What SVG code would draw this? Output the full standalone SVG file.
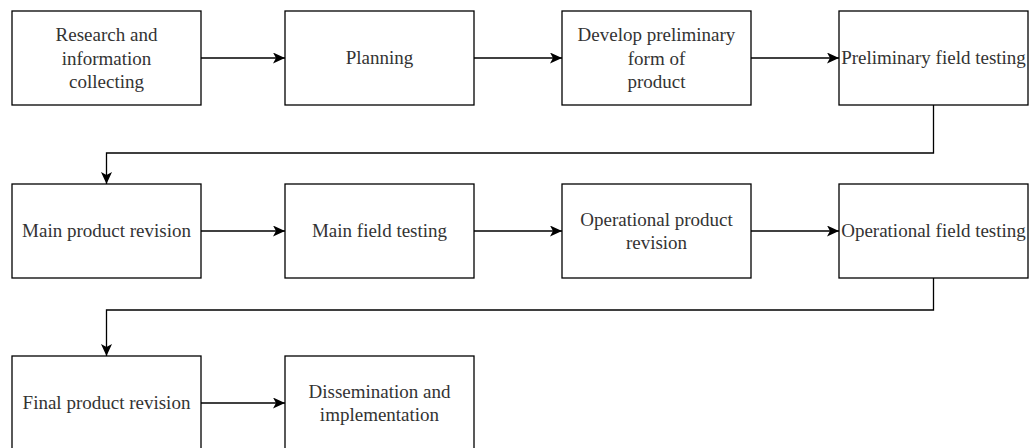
<svg xmlns="http://www.w3.org/2000/svg" width="1033" height="448" viewBox="0 0 1033 448">
<style>
.box{fill:#fff;stroke:#000;stroke-width:1.3}
.lbl{font-family:"Liberation Serif","Times New Roman",serif;font-size:19px;fill:#333;text-anchor:middle}
.edge{fill:none;stroke:#000;stroke-width:1.3}
</style>
<defs>
<marker id="arr" markerUnits="userSpaceOnUse" markerWidth="14" markerHeight="12" refX="12" refY="5.5" orient="auto">
<path d="M0,0 L12,5.5 L0,11 L3,5.5 z" fill="#000"/>
</marker>
</defs>
<rect width="1033" height="448" fill="#fff"/>
<g id="connectors">
<path class="edge" marker-end="url(#arr)" d="M201,58 H285"/>
<path class="edge" marker-end="url(#arr)" d="M474,58 H562"/>
<path class="edge" marker-end="url(#arr)" d="M751,58 H839"/>
<path class="edge" marker-end="url(#arr)" d="M933.5,105 V153 H106.5 V184"/>
<path class="edge" marker-end="url(#arr)" d="M201,231 H285"/>
<path class="edge" marker-end="url(#arr)" d="M474,231 H562"/>
<path class="edge" marker-end="url(#arr)" d="M751,231 H839"/>
<path class="edge" marker-end="url(#arr)" d="M933.5,278 V310 H106.5 V356"/>
<path class="edge" marker-end="url(#arr)" d="M201,403 H285"/>
</g>
<g id="n1"><rect class="box" x="12" y="11" width="189" height="94"/>
<text class="lbl" x="106.5" y="41">Research and</text><text class="lbl" x="106.5" y="64.5">information</text><text class="lbl" x="106.5" y="88">collecting</text></g>
<g id="n2"><rect class="box" x="285" y="11" width="189" height="94"/>
<text class="lbl" x="379.5" y="64">Planning</text></g>
<g id="n3"><rect class="box" x="562" y="11" width="189" height="94"/>
<text class="lbl" x="656.5" y="41">Develop preliminary</text><text class="lbl" x="656.5" y="64.5">form of</text><text class="lbl" x="656.5" y="88">product</text></g>
<g id="n4"><rect class="box" x="839" y="11" width="189" height="94"/>
<text class="lbl" x="933.5" y="64">Preliminary field testing</text></g>
<g id="n5"><rect class="box" x="12" y="184" width="189" height="94"/>
<text class="lbl" x="106.5" y="237">Main product revision</text></g>
<g id="n6"><rect class="box" x="285" y="184" width="189" height="94"/>
<text class="lbl" x="379.5" y="237">Main field testing</text></g>
<g id="n7"><rect class="box" x="562" y="184" width="189" height="94"/>
<text class="lbl" x="656.5" y="225.5">Operational product</text><text class="lbl" x="656.5" y="249">revision</text></g>
<g id="n8"><rect class="box" x="839" y="184" width="189" height="94"/>
<text class="lbl" x="933.5" y="237">Operational field testing</text></g>
<g id="n9"><rect class="box" x="12" y="356" width="189" height="94"/>
<text class="lbl" x="106.5" y="409">Final product revision</text></g>
<g id="n10"><rect class="box" x="285" y="356" width="189" height="94"/>
<text class="lbl" x="379.5" y="397.5">Dissemination and</text><text class="lbl" x="379.5" y="421">implementation</text></g>
</svg>
